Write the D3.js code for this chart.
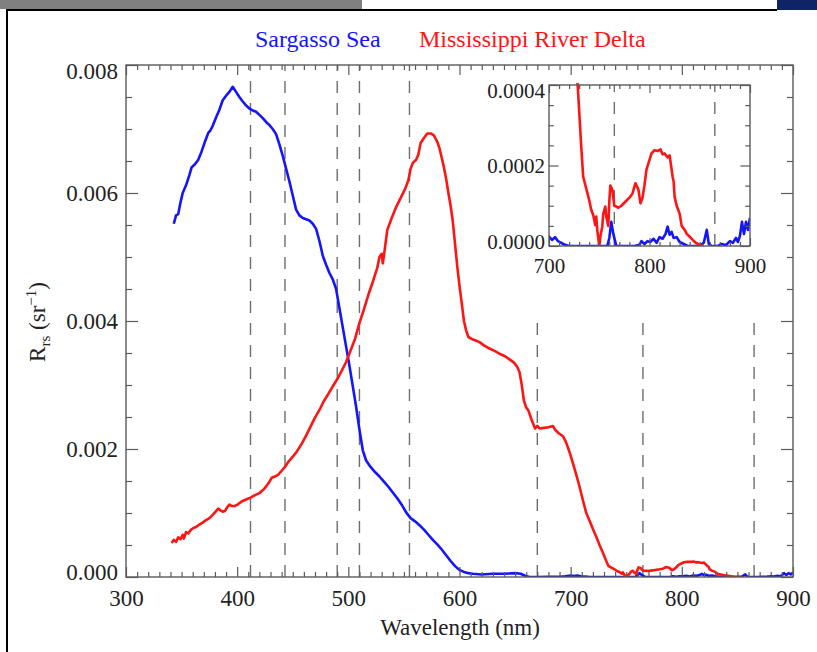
<!DOCTYPE html>
<html><head><meta charset="utf-8">
<script src="https://cdn.jsdelivr.net/npm/d3@7"></script>
<style>html,body{margin:0;padding:0;background:#fff;} svg{display:block;}</style>
</head><body>
<svg id="chart" width="817" height="652"></svg>
<script>
// ---------------- data ----------------
const seriesNames = ["Sargasso Sea", "Mississippi River Delta"];
const xTicks = [300, 400, 500, 600, 700, 800, 900];
const yTicks = [0, 0.002, 0.004, 0.006, 0.008];
const insetXTicks = [700, 800, 900];
const insetYTicks = [0, 0.0002, 0.0004];
const visBandsNm = [412, 443, 490, 510, 555];
const nirBandsNm = [670, 765, 865];

const sargassoNm = [343,345,347,349,351,354,357,359,362,365,368,371,374,376,378,381,384,387,390,393,396,399,402,405,408,411,414,417,420,423,426,429,432,435,438,441,444,447,450,453,456,459,462,465,468,471,474,477,480,483,486,489,492,495,498,501,504,507,510,513,516,520,524,528,532,536,540,544,548,552,556,560,564,568,572,576,580,584,588,592,596,600,604,608,612,620,630,640,650,655,659,663,670,680,690,695,700,703,706,709,712,716,720,730,740,750,758,760,762,764,767,775,785,790,792,795,798,801,804,807,810,813,816,818,820,822,824,827,830,834,838,845,850,854,857,859,862,868,872,876,880,883,886,888,890,892,894,896,898,900];
const sargassoRrs = [0.00552,0.00565,0.00567,0.00585,0.00600,0.00612,0.00628,0.00640,0.00645,0.00652,0.00665,0.00680,0.00694,0.00698,0.00705,0.00718,0.00730,0.00745,0.00752,0.00758,0.00766,0.00758,0.00750,0.00743,0.00737,0.00732,0.00729,0.00727,0.00722,0.00717,0.00711,0.00706,0.00700,0.00692,0.00676,0.00658,0.00638,0.00618,0.00596,0.00574,0.00565,0.00561,0.00559,0.00557,0.00552,0.00544,0.00525,0.00502,0.00488,0.00475,0.00465,0.00450,0.00420,0.00390,0.00360,0.00330,0.00298,0.00266,0.00230,0.00198,0.00182,0.00172,0.00164,0.00157,0.00149,0.00141,0.00132,0.00123,0.00113,0.00101,0.00092,0.00087,0.00081,0.00074,0.00066,0.00058,0.00051,0.00043,0.00034,0.00025,0.00017,0.00011,0.00008,0.00006,0.00005,0.00004,0.00005,0.00005,0.00006,0.00005,0.00002,0.00000,0.00000,0.000003,0.000005,0.00001,0.000023,0.000015,0.000022,0.000012,0.000008,0.000003,0,0,0,0,0,0.00002,0.00006,0.00003,0,0,0,0.000003,0.000012,0.000005,0.000012,0.00001,0.000018,0.000008,0.000022,0.000018,0.00003,0.000048,0.000028,0.000035,0.00002,0.000022,0.00001,0.000005,0,0,0,0.000008,0.00004,0.000005,0,0,0.000005,0.000002,0.000012,0.000008,0.00002,0.00001,0.000025,0.00006,0.00003,0.00006,0.00004,0.00007];

const deltaNm = [341,343,345,347,349,351,352,354,356,358,360,363,366,369,372,375,378,381,383,385,387,389,391,393,395,398,401,404,408,412,416,420,424,428,431,434,437,440,443,446,450,454,458,462,466,470,474,478,482,486,490,494,498,502,506,510,514,518,522,526,528,530,531,533,535,539,543,547,551,554,556,558,561,563,565,568,571,574,577,580,582,584,586,588,590,592,594,596,598,600,602,604,606,608,611,614,618,622,627,632,637,641,645,649,652,654,656,658,660,662,665,668,670,672,676,680,684,686,689,693,696,699,702,705,708,711,714,717,720,723,726,729,732,734,737,740,742,744,746,747,748,750,751.5,753,754,756,757,759,760,761,763,765,767,769,772,776,780,783,786,789,791,793,795,797,800,802,805,808,811,813,815,818,820,822,823,824,825,827,830,832,835,837,840,843,846,850,854,858];
const deltaRrs = [0.00053,0.00058,0.00055,0.00062,0.00059,0.00066,0.00060,0.00070,0.00068,0.00073,0.00076,0.00078,0.00082,0.00085,0.00089,0.00092,0.00097,0.00103,0.00107,0.00104,0.00102,0.00103,0.00109,0.00113,0.00111,0.00111,0.00114,0.00118,0.00121,0.00124,0.00128,0.00131,0.00137,0.00146,0.00155,0.00157,0.00160,0.00166,0.00172,0.00180,0.00188,0.00197,0.00208,0.00221,0.00235,0.00249,0.00261,0.00275,0.00286,0.00298,0.00309,0.00322,0.00336,0.00354,0.00372,0.00397,0.00418,0.00441,0.00461,0.00483,0.00500,0.00505,0.00490,0.00515,0.00542,0.00561,0.00578,0.00592,0.00606,0.00620,0.00638,0.00647,0.00652,0.00660,0.00678,0.00686,0.00693,0.00693,0.00690,0.00680,0.00670,0.00655,0.00640,0.00622,0.00600,0.00580,0.00555,0.00520,0.00485,0.00455,0.00428,0.00400,0.00385,0.00375,0.00372,0.00370,0.00367,0.00362,0.00357,0.00353,0.00348,0.00345,0.00340,0.00335,0.00328,0.00320,0.00300,0.00275,0.00265,0.00260,0.00245,0.00232,0.00236,0.00232,0.00233,0.00234,0.00236,0.00230,0.00225,0.00220,0.00210,0.00195,0.00178,0.00160,0.00141,0.00120,0.00100,0.00088,0.00075,0.00063,0.00050,0.00038,0.00025,0.000172,0.000143,0.000114,0.00009,0.000077,0.000052,0.000073,0.00004,0,0.00003,0.000048,0.00008,0.000098,0.000073,0.00005,0.00011,0.00015,0.00014,0.0001,0.000098,0.000095,0.0001,0.00011,0.00012,0.00013,0.000156,0.00014,0.000106,0.00012,0.000151,0.00019,0.000214,0.00023,0.000238,0.000236,0.00024,0.000228,0.00023,0.00022,0.000225,0.00019,0.000172,0.00016,0.000122,0.0001,0.00008,0.00005,0.00004,0.00003,0.000023,0.000015,0.000008,0.000003,0];

// ---------------- drawing ----------------
const FONT = '"Liberation Serif","Times New Roman",Times,serif';
const BLUE = "#1414ff", RED = "#ff1414", AXIS = "#5a5a5a", TXT = "#222";
const svg = d3.select("#chart");

// page decoration
svg.append("rect").attr("x",0).attr("y",0).attr("width",362).attr("height",9).attr("fill","#808080");
svg.append("rect").attr("x",777).attr("y",0).attr("width",40).attr("height",10).attr("fill","#0e2466");
svg.append("line").attr("x1",6).attr("y1",10).attr("x2",777).attr("y2",10).attr("stroke","#000").attr("stroke-width",2);
svg.append("line").attr("x1",7).attr("y1",10).attr("x2",7).attr("y2",652).attr("stroke","#000").attr("stroke-width",2);

const sarg = sargassoNm.map((d,i)=>({nm:d, v:sargassoRrs[i]}));
const delta = deltaNm.map((d,i)=>({nm:d, v:deltaRrs[i]}));

function drawPanel(cfg){
  const {id,x,y,xMajor,xMinor,yMajor,yMinor,fmtX,fmtY,fs,majLen,minLen,padX,padY,bg,topDy,botDy} = cfg;
  const [x0,x1] = x.range(), [y0,y1] = y.range(); // y0 bottom, y1 top
  const g = svg.append("g");
  if (bg) g.append("rect").attr("x",x0).attr("y",y1).attr("width",x1-x0).attr("height",y0-y1).attr("fill","#fff");
  svg.append("defs").append("clipPath").attr("id",id).append("rect")
     .attr("x",x0).attr("y",y1-2).attr("width",x1-x0).attr("height",y0-y1+2);
  const plot = g.append("g").attr("clip-path",`url(#${id})`);
  // dashed band lines
  cfg.dashes.forEach(dl=>{
    plot.selectAll(null).data(dl.nm).join("line")
      .attr("x1",d=>x(d)).attr("x2",d=>x(d)).attr("y1",y(dl.from)).attr("y2",y(dl.to))
      .attr("stroke","#6e6e6e").attr("stroke-width",1.4).attr("stroke-dasharray","12,10");
  });
  const line = d3.line().x(d=>x(d.nm)).y(d=>y(d.v));
  plot.append("path").datum(sarg).attr("d",line).attr("fill","none").attr("stroke",BLUE).attr("stroke-width",2.6).attr("stroke-linejoin","round");
  plot.append("path").datum(delta).attr("d",line).attr("fill","none").attr("stroke",RED).attr("stroke-width",2.6).attr("stroke-linejoin","round");

  const style = sel => { sel.select(".domain").remove();
    sel.selectAll("line").attr("stroke",AXIS).attr("stroke-width",1.2);
    sel.selectAll("text").attr("font-family",FONT).attr("font-size",fs).attr("fill",TXT); };
  // bottom
  g.append("g").attr("transform",`translate(0,${y0})`).call(d3.axisBottom(x).tickValues(xMinor).tickSize(-minLen).tickFormat("")).call(style);
  g.append("g").attr("transform",`translate(0,${y0})`).call(d3.axisBottom(x).tickValues(xMajor).tickSizeInner(-majLen).tickSizeOuter(0).tickPadding(padX).tickFormat(fmtX)).call(style);
  // top
  g.append("g").attr("transform",`translate(0,${y1})`).call(d3.axisTop(x).tickValues(xMinor).tickSize(-minLen).tickFormat("")).call(style);
  g.append("g").attr("transform",`translate(0,${y1})`).call(d3.axisTop(x).tickValues(xMajor).tickSize(-majLen).tickFormat("")).call(style);
  // left
  g.append("g").attr("transform",`translate(${x0},0)`).call(d3.axisLeft(y).tickValues(yMinor).tickSize(-minLen*1.2).tickFormat("")).call(style);
  const ly = g.append("g").attr("transform",`translate(${x0},0)`).call(d3.axisLeft(y).tickValues(yMajor).tickSizeInner(-majLen*1.2).tickSizeOuter(0).tickPadding(padY).tickFormat(fmtY)).call(style);
  const ymax = d3.max(yMajor);
  ly.selectAll(".tick text").attr("dy", d => d===ymax ? topDy : (d===0 ? botDy : "0.32em"));
  // right
  g.append("g").attr("transform",`translate(${x1},0)`).call(d3.axisRight(y).tickValues(yMinor).tickSize(-minLen*1.2).tickFormat("")).call(style);
  g.append("g").attr("transform",`translate(${x1},0)`).call(d3.axisRight(y).tickValues(yMajor).tickSize(-majLen*1.2).tickFormat("")).call(style);
  // frame
  g.append("rect").attr("x",x0).attr("y",y1).attr("width",x1-x0).attr("height",y0-y1)
    .attr("fill","none").attr("stroke",AXIS).attr("stroke-width",1.4);
  return g;
}

// main panel
const x = d3.scaleLinear().domain([300,900]).range([126,793]);
const y = d3.scaleLinear().domain([0,0.008]).range([577,65]);
const minorX = d3.range(300,901,10).filter(v=>v%100!==0);
const minorY = d3.range(0,0.00801,0.0005).filter((v,i)=>i%4!==0);
drawPanel({id:"clipMain",x,y,xMajor:xTicks,xMinor:minorX,yMajor:yTicks,yMinor:minorY,
  fmtX:d3.format("d"),fmtY:d3.format(".3f"),fs:23,majLen:10,minLen:5,padX:13,padY:8,bg:false,
  topDy:"0.58em",botDy:"0.1em",
  dashes:[{nm:visBandsNm,from:0,to:0.008},{nm:nirBandsNm,from:0,to:0.004}]});

// inset panel
const xi = d3.scaleLinear().domain([700,900]).range([549,750]);
const yi = d3.scaleLinear().domain([0,0.0004]).range([246,85]);
const minorXi = d3.range(700,901,10).filter(v=>v%100!==0);
const minorYi = [0.00005,0.0001,0.00015,0.00025,0.0003,0.00035];
drawPanel({id:"clipInset",x:xi,y:yi,xMajor:insetXTicks,xMinor:minorXi,yMajor:insetYTicks,yMinor:minorYi,
  fmtX:d3.format("d"),fmtY:d3.format(".4f"),fs:21,majLen:8,minLen:4,padX:12,padY:4,bg:true,
  topDy:"0.6em",botDy:"0.1em",
  dashes:[{nm:[765,865],from:0,to:0.0004}]});

// axis titles
svg.append("text").attr("x",460).attr("y",635).attr("text-anchor","middle")
  .attr("font-family",FONT).attr("font-size",23).attr("fill",TXT).text("Wavelength (nm)");
const yt = svg.append("text").attr("transform","translate(45,322) rotate(-90)").attr("text-anchor","middle")
  .attr("font-family",FONT).attr("font-size",23).attr("fill",TXT);
yt.append("tspan").text("R");
yt.append("tspan").attr("font-size",15).attr("dy",5).text("rs");
yt.append("tspan").attr("dy",-5).text(" (sr");
yt.append("tspan").attr("font-size",15).attr("dy",-9).text("\u22121");
yt.append("tspan").attr("dy",9).text(")");

// legend
svg.append("text").attr("x",255).attr("y",47).attr("font-family",FONT).attr("font-size",24)
  .attr("fill",BLUE).text(seriesNames[0]);
svg.append("text").attr("x",419).attr("y",47).attr("font-family",FONT).attr("font-size",24)
  .attr("fill",RED).text(seriesNames[1]);
</script>
</body></html>
